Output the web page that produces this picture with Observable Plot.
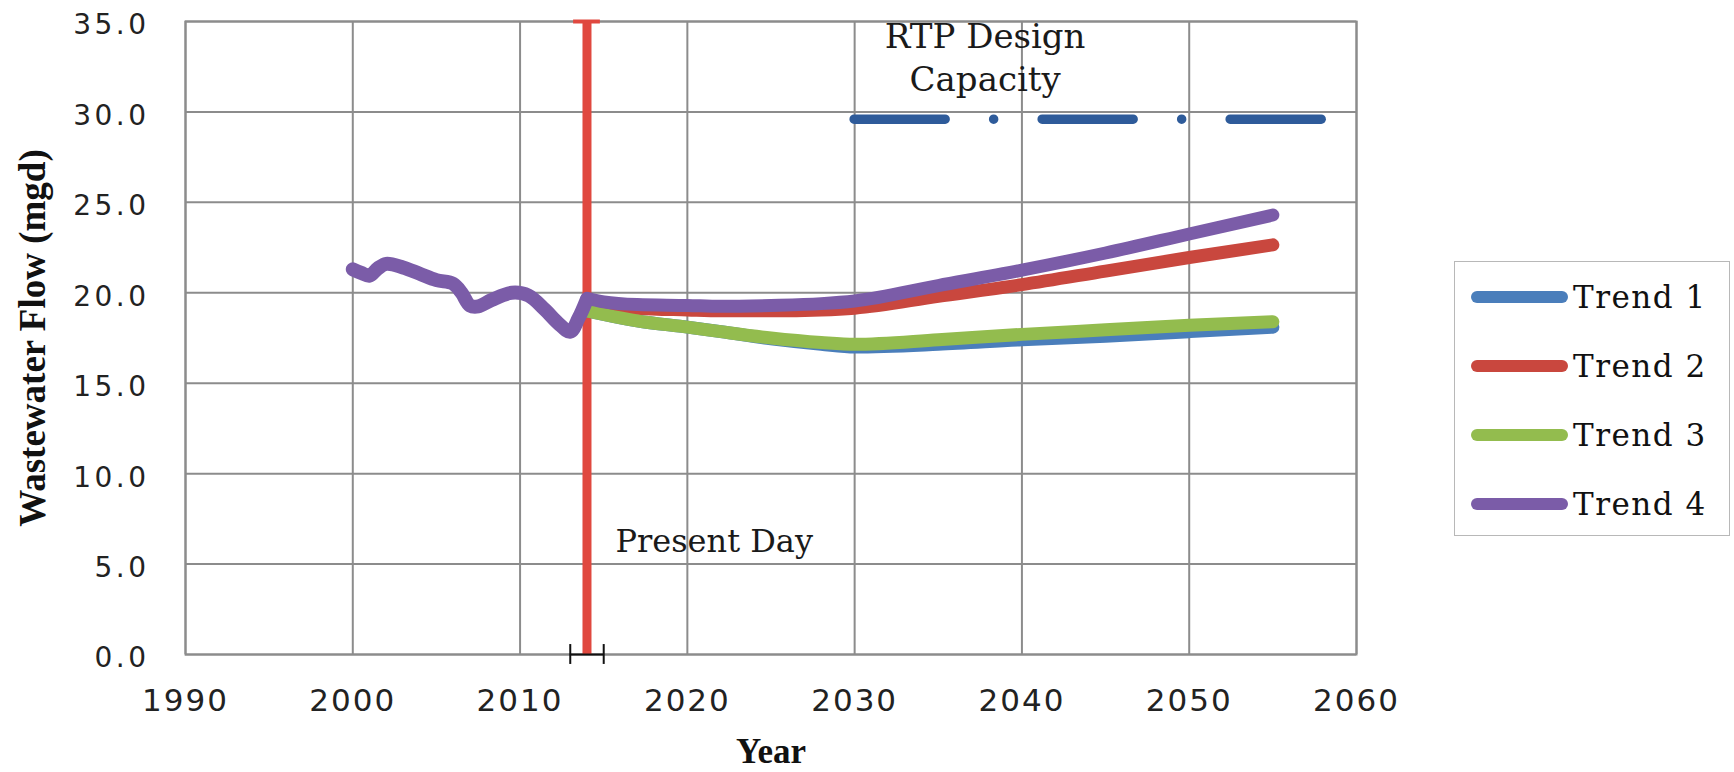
<!DOCTYPE html>
<html>
<head>
<meta charset="utf-8">
<script src="https://cdn.jsdelivr.net/npm/d3@7"></script>
<script src="https://cdn.jsdelivr.net/npm/@observablehq/plot@0.6"></script>
<style>
  body { margin: 0; background: #fff; }
  #wrap { position: relative; width: 1734px; height: 772px; overflow: hidden; }
  g[aria-label="y-axis tick label"] text { letter-spacing: 3.5px; }
  g[aria-label="x-axis tick label"] text { letter-spacing: 2px; }
  g[aria-label="ytitle"] text { letter-spacing: 0.5px; }
  g[aria-label="xtitle"] text { letter-spacing: 2px; }
  g[aria-label="annotation"] text { letter-spacing: 2.5px; }
  g[aria-label="present"] text { letter-spacing: 3.5px; }
  #legend { position: absolute; left: 1454px; top: 261px; width: 274px; height: 273px;
            border: 1.5px solid #b8b8b8; background: #fff; }
  #legend text { letter-spacing: 1.5px; }
</style>
</head>
<body>
<div id="wrap"></div>
<script>
// ---- Data ----
const histYears = [2000, 2000.5, 2001, 2001.5, 2002, 2003, 2004, 2005, 2006, 2006.5, 2007, 2007.5, 2008.3, 2009.5, 2010.5, 2011.5, 2012.3, 2013, 2013.5, 2014];
const histFlow  = [21.3, 21.1, 20.95, 21.35, 21.6, 21.4, 21.05, 20.7, 20.5, 20.0, 19.3, 19.25, 19.6, 20.0, 19.85, 19.05, 18.3, 17.85, 18.6, 19.65];

const trendYears = [2014, 2015, 2017, 2020, 2022, 2025, 2028, 2030, 2035, 2040, 2045, 2050, 2055];
const trend1 = [19.0, 18.8, 18.45, 18.1, 17.85, 17.45, 17.15, 17.0, 17.15, 17.4, 17.6, 17.85, 18.1];
const trend2 = [19.6, 19.35, 19.15, 19.05, 19.0, 19.0, 19.05, 19.15, 19.8, 20.45, 21.2, 21.95, 22.65];
const trend3 = [19.0, 18.8, 18.45, 18.1, 17.85, 17.5, 17.25, 17.15, 17.4, 17.7, 17.95, 18.2, 18.4];
const trend4 = [19.7, 19.5, 19.35, 19.3, 19.25, 19.3, 19.4, 19.55, 20.4, 21.25, 22.2, 23.25, 24.3];

const trendNames  = ["Trend 1", "Trend 2", "Trend 3", "Trend 4"];
const trendValues = [trend1, trend2, trend3, trend4];
const trendColors = ["#4A7EBB", "#C9473E", "#93BC4E", "#7B5CA8"];

const capacityValue = 29.6;
const capacityYears = [2030, 2060];
const presentDay = 2014;
const presentRange = [2013, 2015];
const yMax = 35;

const xTicks = [1990, 2000, 2010, 2020, 2030, 2040, 2050, 2060];
const yTicks = [0, 5, 10, 15, 20, 25, 30, 35];

const capacityLabel = "RTP Design\nCapacity";
const presentLabel = "Present Day";
const xTitle = "Year";
const yTitle = "Wastewater Flow (mgd)";

// ---- Build tables ----
const hist = histYears.map((x, i) => ({x, y: histFlow[i]}));
const trends = trendNames.flatMap((name, k) =>
  trendYears.map((x, i) => ({name, x, y: trendValues[k][i]})));

const sans = "DejaVu Sans";
const serif = "DejaVu Serif";
const gridColor = "#8c8c8c";

const chart = Plot.plot({
  width: 1734,
  height: 772,
  marginLeft: 185,
  marginRight: 378,
  marginTop: 21,
  marginBottom: 118,
  x: {domain: [1990, 2060]},
  y: {domain: [0, 35]},
  color: {domain: trendNames, range: trendColors},
  style: {background: "white", color: "#222", overflow: "visible"},
  marks: [
    Plot.gridX(xTicks, {stroke: gridColor, strokeOpacity: 1, strokeWidth: 2}),
    Plot.gridY(yTicks, {stroke: gridColor, strokeOpacity: 1, strokeWidth: 2}),
    Plot.frame({stroke: gridColor, strokeWidth: 2}),
    Plot.axisX(xTicks, {tickSize: 0, tickPadding: 34, fontSize: 31, fontFamily: sans, fill: "#222",
                        tickFormat: d => String(d), label: null}),
    Plot.axisY(yTicks, {tickSize: 0, tickPadding: 36, fontSize: 28, fontFamily: sans, fill: "#222",
                        tickFormat: d => d.toFixed(1), dy: 4, label: null}),
    // Present day vertical (red) error bar
    Plot.ruleX([presentDay], {y1: 0, y2: yMax, stroke: "#E0483F", strokeWidth: 9}),
    Plot.ruleY([yMax], {x1: presentDay - 0.8, x2: presentDay + 0.8, stroke: "#E0483F", strokeWidth: 4}),
    // Black horizontal error bar at zero
    Plot.ruleY([0], {x1: presentRange[0], x2: presentRange[1], stroke: "#111", strokeWidth: 2}),
    Plot.ruleX(presentRange, {y1: -0.55, y2: 0.55, stroke: "#111", strokeWidth: 2}),
    // Design capacity
    Plot.ruleY([capacityValue], {x1: capacityYears[0], x2: capacityYears[1], stroke: "#2E5B9A",
                strokeWidth: 9.5, strokeLinecap: "round", strokeDasharray: "91 48.5 0.01 48.5"}),
    // Trend projections
    Plot.line(trends, {x: "x", y: "y", z: "name", stroke: "name", strokeWidth: 13, curve: "monotone-x"}),
    // Historical flow
    Plot.line(hist, {x: "x", y: "y", stroke: trendColors[3], strokeWidth: 14, curve: "catmull-rom"}),
    // Annotations
    Plot.text([capacityLabel], {x: 2037.8, y: 33.1, text: d => d, lineHeight: 1.27, fontSize: 34,
               fontFamily: serif, fill: "#1a1a1a", ariaLabel: "annotation"}),
    Plot.text([presentLabel], {x: 2015.7, y: 6.25, text: d => d, textAnchor: "start", fontSize: 32,
               fontFamily: serif, fill: "#1a1a1a", ariaLabel: "present"}),
    // Axis titles
    Plot.text([xTitle], {frameAnchor: "bottom", dy: 97, text: d => d, textAnchor: "middle", lineAnchor: "middle",
               fontSize: 35, fontWeight: "bold", fontFamily: "Liberation Serif", fill: "#111", ariaLabel: "xtitle"}),
    Plot.text([yTitle], {frameAnchor: "left", dx: -152, rotate: -90, text: d => d, textAnchor: "middle",
               lineAnchor: "middle", fontSize: 37, fontWeight: "bold", fontFamily: "Liberation Serif",
               fill: "#111", ariaLabel: "ytitle"})
  ]
});

const wrap = document.getElementById("wrap");
wrap.appendChild(chart);

// ---- Legend ----
const legend = document.createElement("div");
legend.id = "legend";
wrap.appendChild(legend);
const lsvg = d3.select(legend).append("svg").attr("width", 274).attr("height", 273);
const rowY = [35, 104, 173, 242];
trendNames.forEach((name, i) => {
  lsvg.append("line")
    .attr("x1", 22).attr("x2", 107).attr("y1", rowY[i]).attr("y2", rowY[i])
    .attr("stroke", trendColors[i]).attr("stroke-width", 12).attr("stroke-linecap", "round");
  lsvg.append("text")
    .attr("x", 118).attr("y", rowY[i]).attr("dy", "0.36em")
    .attr("font-family", serif).attr("font-size", 31).attr("fill", "#111")
    .text(name);
});
</script>
</body>
</html>
